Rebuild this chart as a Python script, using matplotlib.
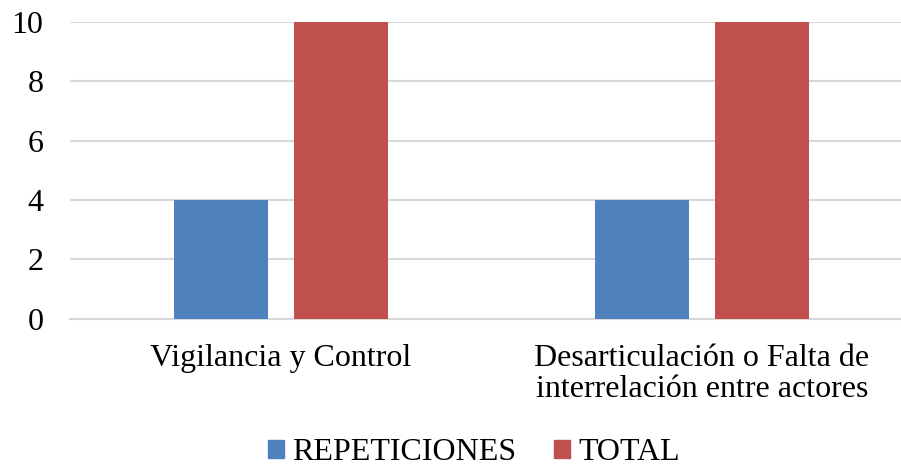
import matplotlib
matplotlib.use("Agg")
import matplotlib.pyplot as plt
from matplotlib.patches import Patch
import numpy as np

categories = ["Vigilancia y Control", "Desarticulación o Falta de\ninterrelación entre actores"]
repeticiones = [4, 4]
total = [10, 10]
series_names = ["REPETICIONES", "TOTAL"]

plt.rcParams['font.family'] = ['Liberation Serif', 'DejaVu Serif']

fig = plt.figure(figsize=(9.01, 4.66), dpi=100)
ax = fig.add_axes([70 / 901, 0.3165, 1 - 70 / 901, 0.9528 - 0.3165])

x = np.arange(len(categories))
w = 0.2233
off = 0.1425
ax.bar(x - off, repeticiones, w, color="#4F81BD", zorder=3)
ax.bar(x + off, total, w, color="#C0504D", zorder=3)

ax.set_xlim(-0.501, 1.473)
ax.set_ylim(0, 10)
ax.set_yticks(range(0, 11, 2))
ax.yaxis.grid(True, color="#D9D9D9", linewidth=1.5, zorder=0)
ax.tick_params(axis="y", length=0, labelsize=23, pad=19)
ax.set_xticks(x)
ax.set_xticklabels(categories, fontsize=23, linespacing=1.12)
ax.tick_params(axis="x", length=0, pad=18)
for s in ["top", "right", "left"]:
    ax.spines[s].set_visible(False)
ax.spines["bottom"].set_color("#D9D9D9")
ax.spines["bottom"].set_linewidth(1.5)

# legend below the category labels
handles = [Patch(color="#4F81BD"), Patch(color="#C0504D")]
fig.legend(handles, series_names, loc="center", bbox_to_anchor=(474 / 901, 1 - 453 / 466),
           ncol=2, frameon=False, fontsize=23, handlelength=0.5, handleheight=0.5,
           handletextpad=0.25, columnspacing=1.2)

fig.savefig("out.png", dpi=100)
